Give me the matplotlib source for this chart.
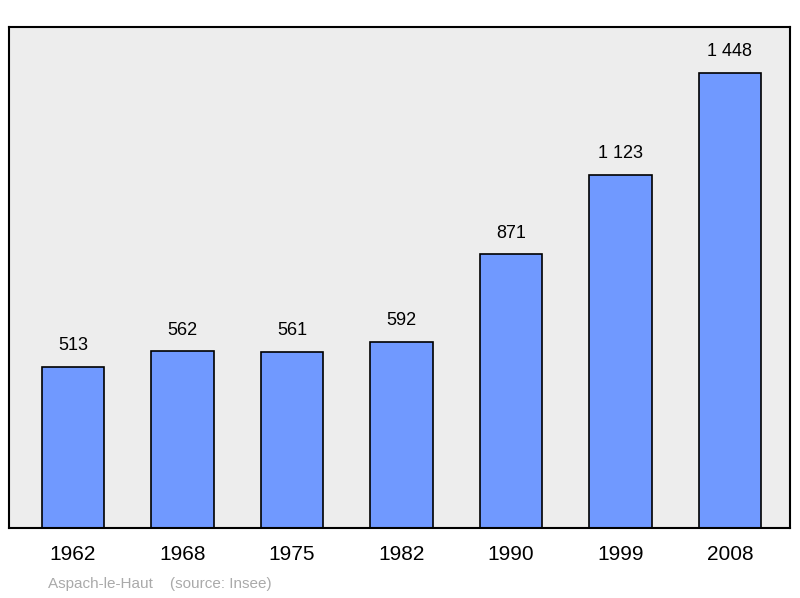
import matplotlib
matplotlib.use("Agg")
import matplotlib.pyplot as plt

years = ["1962", "1968", "1975", "1982", "1990", "1999", "2008"]
values = [513, 562, 561, 592, 871, 1123, 1448]
labels = ["513", "562", "561", "592", "871", "1 123", "1 448"]

plt.rcParams['font.family'] = ['Liberation Sans', 'DejaVu Sans']
fig = plt.figure(figsize=(8, 5.98), dpi=100)
ax = fig.add_axes([9/800, 1-528/598, 781/800, 501/598])
ax.set_facecolor("#ededed")
x = list(range(len(years)))
ax.bar(x, values, width=0.57, color="#7099ff", edgecolor="black", linewidth=1.2)
for xi, v, l in zip(x, values, labels):
    ax.text(xi, v + 40, l, ha="center", va="bottom", fontsize=13)
ax.set_xlim(-0.584, 6.548)
ax.set_ylim(0, 1594)
ax.set_yticks([])
ax.set_xticks(x)
ax.set_xticklabels(years, fontsize=15)
ax.tick_params(axis='x', length=0, pad=12)
for s in ax.spines.values():
    s.set_linewidth(1.5)
fig.text(48/800, 1-584/598, "Aspach-le-Haut    (source: Insee)", color="#aaaaaa", fontsize=11, va="center")
fig.savefig("out.png", dpi=100)
